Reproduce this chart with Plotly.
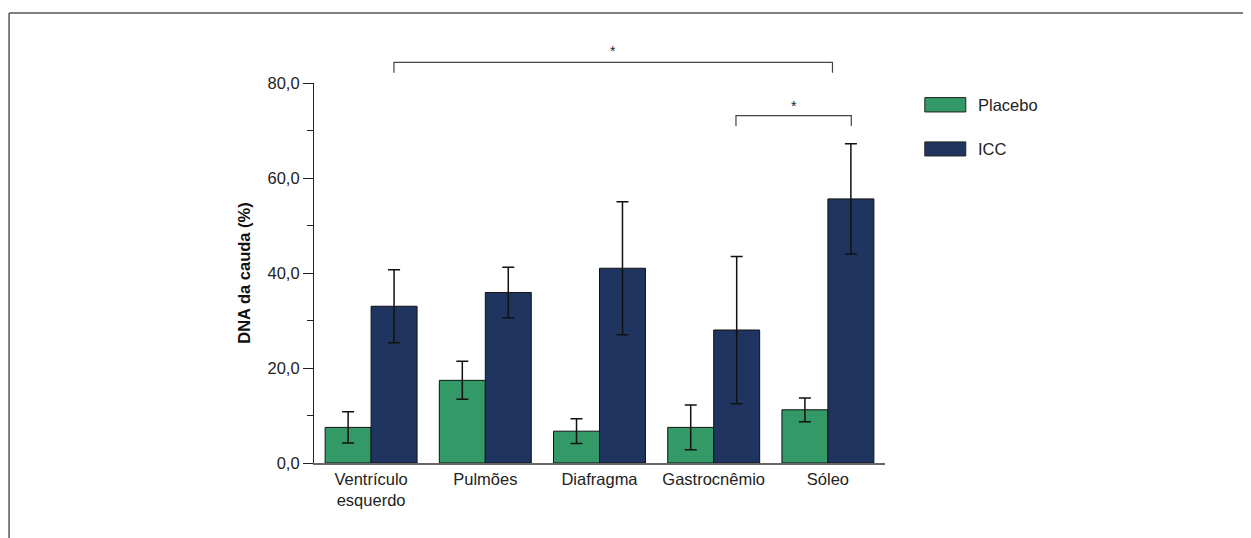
import plotly.graph_objects as go

categories = ["Ventrículo<br>esquerdo", "Pulmões", "Diafragma", "Gastrocnêmio", "Sóleo"]
placebo = [7.5, 17.4, 6.7, 7.5, 11.2]
placebo_err = [3.3, 4.0, 2.6, 4.7, 2.5]
icc = [33.0, 35.9, 41.0, 28.0, 55.6]
icc_err = [7.7, 5.3, 14.0, 15.5, 11.6]
series_names = ["Placebo", "ICC"]
colors = ["#339966", "#1f3560"]
ytick_vals = [0, 20, 40, 60, 80]
ytick_text = ["0,0", "20,0", "40,0", "60,0", "80,0"]

FONT = "Liberation Sans Narrow, Arial Narrow, Liberation Sans, Arial, sans-serif"
FS = 16.5

fig = go.Figure()
for name, vals, errs, col in [(series_names[0], placebo, placebo_err, colors[0]),
                              (series_names[1], icc, icc_err, colors[1])]:
    fig.add_trace(go.Bar(
        x=categories, y=vals, name=name,
        marker=dict(color=col, line=dict(color="#111111", width=1)),
        error_y=dict(type="data", array=errs, visible=True, color="#111111",
                     thickness=1.5, width=6),
        hoverinfo="skip", showlegend=False,
    ))

fig.update_layout(
    width=1251, height=538,
    margin=dict(l=306, r=374, t=75, b=83),
    paper_bgcolor="white", plot_bgcolor="white",
    barmode="group", bargap=0.195, bargroupgap=0,
    font=dict(family=FONT, size=FS, color="#222222"),
    xaxis=dict(
        range=[-0.5, 4.5], showline=True, linecolor="#666666", linewidth=1.5,
        ticks="", showgrid=False, zeroline=False,
        tickfont=dict(family=FONT, size=FS, color="#222222"),
    ),
    yaxis=dict(
        range=[0, 80], showline=True, linecolor="#222222", linewidth=1.2,
        tickvals=ytick_vals, ticktext=ytick_text, ticks="outside", ticklen=10,
        tickcolor="#222222", tickwidth=1.2,
        minor=dict(dtick=10, ticks="outside", ticklen=6, tickcolor="#222222", tickwidth=1.2, showgrid=False),
        showgrid=False, zeroline=False,
        tickfont=dict(family=FONT, size=FS, color="#222222"),
        title=dict(text="<b>DNA da cauda (%)</b>", font=dict(family=FONT, size=FS, color="#111111"), standoff=12),
    ),
)

shapes = []
# frame lines (top and left)
shapes.append(dict(type="line", xref="paper", yref="paper", x0=-0.534, x1=1.7, y0=1.184, y1=1.184,
                   line=dict(color="#555555", width=1.5)))
shapes.append(dict(type="line", xref="paper", yref="paper", x0=-0.534, x1=-0.534, y0=1.184, y1=-0.25,
                   line=dict(color="#555555", width=1.5)))
# significance brackets
def bracket(xa, xb, ytop, ybot):
    return dict(type="path", xref="x", yref="paper",
                path=f"M {xa},{ybot} L {xa},{ytop} L {xb},{ytop} L {xb},{ybot}",
                line=dict(color="#444444", width=1.2))
shapes.append(bracket(0.2, 4.04, 1.0544, 1.0273))
shapes.append(bracket(3.195, 4.205, 0.9143, 0.887))
# legend swatches
for (y0, y1), col in zip([(0.9238, 0.9616), (0.808, 0.845)], colors):
    shapes.append(dict(type="rect", xref="paper", yref="paper", x0=1.0697, x1=1.1415, y0=y0, y1=y1,
                       fillcolor=col, line=dict(color="#222222", width=1)))
fig.update_layout(shapes=shapes)

annotations = []
for name, yc in zip(series_names, [0.9427, 0.8266]):
    annotations.append(dict(text=name, xref="paper", yref="paper", x=1.1587, y=yc,
                            xanchor="left", yanchor="middle", showarrow=False,
                            font=dict(family=FONT, size=FS, color="#222222")))
for xs, ys in [(2.12, 1.084), (3.7, 0.94)]:
    annotations.append(dict(text="*", xref="x", yref="paper", x=xs, y=ys,
                            xanchor="center", yanchor="middle", showarrow=False,
                            font=dict(family="Liberation Sans, Arial", size=14, color="#222222")))
fig.update_layout(annotations=annotations)

fig.write_html("out.html")
